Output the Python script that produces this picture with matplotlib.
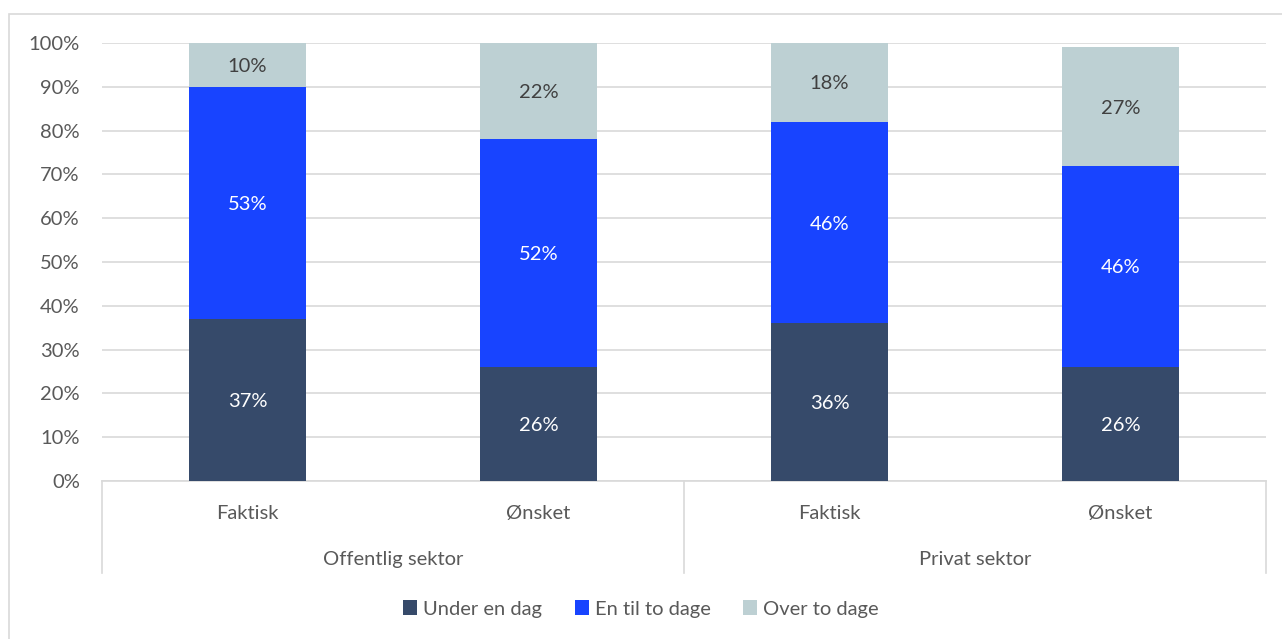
import matplotlib.pyplot as plt
from matplotlib.patches import Rectangle

plt.rcParams['font.family'] = ['Lato', 'DejaVu Sans']

# data
groups = ["Offentlig sektor", "Privat sektor"]
categories = ["Faktisk", "Ønsket", "Faktisk", "Ønsket"]
series = ["Under en dag", "En til to dage", "Over to dage"]
under_en_dag = [37, 26, 36, 26]
en_til_to = [53, 52, 46, 46]
over_to = [10, 22, 18, 27]

colors = ["#364A6A", "#1844FF", "#BDD0D3"]
label_colors = ["white", "white", "#404040"]
text_grey = "#595959"
line_grey = "#D9D9D9"
fs = 14.5

W, H = 1282, 639
fig = plt.figure(figsize=(W / 100, H / 100), dpi=100)

# outer chart border
fig.patches.append(Rectangle((9 / W, -0.02), 1.05, (H - 14) / H + 0.02,
                             transform=fig.transFigure, fill=False,
                             edgecolor=line_grey, linewidth=1.2))

ax = fig.add_axes([102 / W, (H - 481) / H, (1266 - 102) / W, (481 - 43) / H])

x = list(range(len(categories)))
bottoms = [0] * len(categories)
for vals, name, col, lc in zip([under_en_dag, en_til_to, over_to], series, colors, label_colors):
    ax.bar(x, vals, 0.4, bottom=bottoms, color=col, label=name, zorder=3)
    for i, v in enumerate(vals):
        ax.text(x[i], bottoms[i] + v / 2, f"{v}%", ha="center", va="center_baseline",
                color=lc, fontsize=fs, zorder=4)
    bottoms = [b + v for b, v in zip(bottoms, vals)]

ax.set_xlim(-0.5, len(categories) - 0.5)
ax.set_ylim(0, 100)
ax.set_yticks(range(0, 101, 10))
ax.set_yticklabels([f"{t}%" for t in range(0, 101, 10)])
ax.tick_params(axis="y", length=0, labelsize=fs, labelcolor=text_grey, pad=16)
ax.set_xticks([])
ax.grid(axis="y", color=line_grey, linewidth=1.2, zorder=0)
for s in ["top", "right", "left"]:
    ax.spines[s].set_visible(False)
ax.spines["bottom"].set_color(line_grey)
ax.spines["bottom"].set_linewidth(1.2)

# multi-level category axis
trans = ax.get_xaxis_transform()
depth = -(573 - 481) / (481 - 43)
for b in [-0.5, 1.5, 3.5]:
    ax.plot([b, b], [0, depth], transform=trans, color=line_grey,
            linewidth=1.2, clip_on=False)
for i, c in enumerate(categories):
    ax.text(i, -(512 - 481) / (481 - 43), c, transform=trans, ha="center",
            va="center_baseline", color=text_grey, fontsize=fs)
for g, name in enumerate(groups):
    ax.text(2 * g + 0.5, -(558 - 481) / (481 - 43), name, transform=trans,
            ha="center", va="center_baseline", color=text_grey, fontsize=fs)

fig.legend(loc="center", bbox_to_anchor=(0.5, (H - 609) / H), ncol=3,
           frameon=False, fontsize=fs, labelcolor=text_grey,
           handlelength=0.7, handleheight=0.7, handletextpad=0.3,
           columnspacing=1.6)

fig.savefig("out.png", dpi=100, facecolor="white")
